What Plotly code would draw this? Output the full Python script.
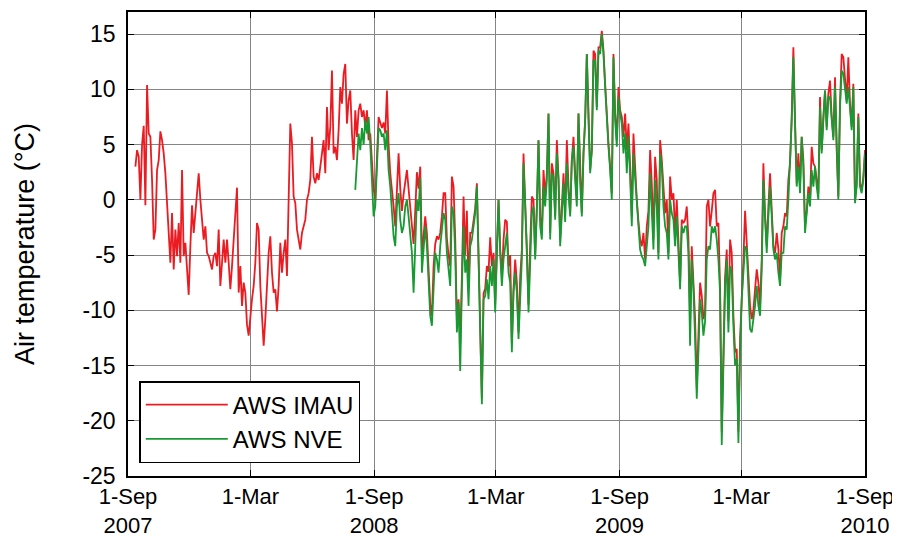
import pandas as pd
import plotly.graph_objects as go

# ---------------- data ----------------
series_start = "2007-09-12"
series_end = "2010-09-01"

# AWS IMAU air temperature (deg C), evenly spaced samples from series_start to series_end
imau_temp = [
    3.0, 4.5, 3.9, 0.0, 5.0, 6.7, -0.5, 10.4, 6.0, 5.7,
    1.8, -3.6, -2.7, 2.7, 3.6, 6.2, 5.4, 4.2, 2.4, -0.6,
    -3.6, -5.7, -1.2, -6.3, -2.7, -5.1, -2.1, -5.7, 2.7, -5.1,
    -3.9, -6.0, -8.6, -4.2, -0.5, -3.0, -1.2, 1.2, 2.4, 0.0,
    -1.5, -3.6, -2.4, -4.8, -5.1, -5.7, -6.3, -5.1, -4.8, -6.0,
    -2.7, -7.8, -5.1, -3.6, -5.7, -3.6, -5.7, -8.1, -6.0, -3.6,
    -1.5, 1.1, -8.4, -6.0, -9.6, -7.5, -8.4, -11.3, -12.3, -10.2,
    -9.0, -7.8, -5.7, -2.1, -2.7, -7.8, -10.5, -13.2, -10.8, -7.8,
    -4.8, -3.3, -6.6, -8.4, -8.1, -10.1, -7.8, -3.9, -6.6, -4.8,
    -3.6, -6.9, 1.8, 6.9, 5.1, 0.3, -0.3, -2.7, -3.6, -4.5,
    -3.0, -2.4, -1.8, 0.0, 0.6, 1.8, 5.7, 2.1, 1.5, 2.4,
    1.8, 3.0, 4.5, 5.4, 2.4, 8.4, 4.5, 6.6, 11.7, 4.2,
    4.8, 3.6, 6.3, 10.2, 8.7, 11.4, 12.3, 6.9, 9.0, 9.9,
    6.0, 3.6, 8.1, 5.7, 8.1, 8.7, 7.5, 8.1, 6.6, 8.1,
    5.4, 6.0, 3.5, 1.0, 0.0, 3.5, 7.5, 7.0, 6.5, 7.0,
    6.0, 9.9, 5.0, 2.4, 0.5, -0.6, -2.4, 1.2, 4.2, 1.0,
    -1.0, 0.5, 1.5, 2.7, 1.0, -0.6, -2.0, -4.0, -1.0, 2.5,
    1.0, 3.0, -5.0, -3.0, -1.5, -3.0, -6.0, -9.5, -10.5, -6.0,
    -4.0, -3.3, -3.6, -3.0, -1.5, 0.6, 0.6, -3.5, -5.0, -6.0,
    2.1, 1.2, -3.5, -11.0, -9.0, -13.0, -7.0, 0.3, -5.0, -1.0,
    -8.0, -3.0, -3.0, -2.0, -0.8, 1.5, -5.5, -13.0, -18.0, -8.5,
    -8.0, -6.0, -6.5, -3.4, -6.0, -4.8, -9.5, -4.5, 0.0, -4.5,
    -7.0, -3.6, -1.8, -2.0, -6.0, -5.0, -13.0, -8.0, -5.4, -7.5,
    -12.0, -7.0, -4.5, 4.2, 0.0, -3.6, -9.5, -4.0, 0.3, 0.0,
    -5.0, -0.6, 5.4, -1.5, -3.0, 2.7, 0.3, 2.4, 7.8, -3.0,
    3.3, 2.4, -1.5, 5.4, 2.0, -3.6, 0.0, 2.4, -1.2, 5.4,
    1.2, -1.2, 3.6, 5.7, 2.4, 0.0, 7.8, 2.4, -1.2, 4.2,
    7.2, 13.2, 7.5, 2.7, 4.5, 13.5, 13.2, 8.4, 13.8, 13.8,
    15.3, 13.5, 10.5, 7.5, 5.1, 3.0, 0.6, 13.2, 7.8, 5.4,
    10.2, 8.1, 7.5, 5.7, 7.8, 4.5, 6.9, 3.0, -1.5, 6.0,
    2.4, 0.0, -2.0, -3.6, -4.2, -3.0, -5.4, -2.4, -1.0, 4.5,
    1.5, -3.6, 3.9, 1.8, -4.8, 5.4, 3.6, 1.5, -1.2, 0.0,
    -4.8, 2.1, 0.0, 0.6, -3.0, 0.0, -3.9, -7.5, -1.8, -2.1,
    -1.8, -0.6, -3.6, -11.0, -4.2, -7.5, -10.8, -17.0, -12.3, -7.5,
    -8.7, -10.8, -10.0, -0.6, 0.0, -2.4, -1.0, 0.6, 0.9, -2.4,
    -2.1, -8.0, -21.0, -13.0, -7.0, -4.5, -11.0, -3.6, -4.8, -10.5,
    -13.8, -13.5, -21.0, -12.6, -8.0, -5.4, -1.0, -4.0, -7.2, -9.6,
    -10.8, -10.0, -8.1, -6.3, -7.5, -9.6, -5.4, 3.3, -1.5, -4.2,
    -0.6, 2.4, -0.9, -4.2, -4.8, -3.0, -4.5, -7.2, -3.0, -2.4,
    -1.2, -1.5, 1.8, 3.3, 7.5, 13.8, 7.0, 1.5, 4.2, 1.2,
    5.7, 3.6, -2.4, -1.0, 1.2, 0.0, 4.8, 3.3, 3.0, 1.5,
    0.6, 9.3, 4.5, 7.5, 9.9, 6.6, 9.6, 10.8, 7.5, 5.7,
    11.1, 4.5, 0.3, 8.7, 13.2, 12.9, 10.8, 9.0, 12.9, 8.7,
    6.6, 10.5, 0.0, 1.5, 7.8, 1.5, 0.9, 2.1, 4.5,
]

# AWS NVE air temperature (deg C), same sampling, station starts in July 2008
nve_temp = [
    0.9, 3.5, 6.0, 4.5, 6.5, 5.0, 7.2, 6.0, 7.5, 5.0,
    2.0, -1.5, -0.6, 3.5, 6.5, 6.3, 5.7, 6.0, 4.5, 6.3,
    2.7, 1.2, -1.2, -3.3, -4.2, -0.6, 0.6, -1.8, -3.0, -2.4,
    -0.6, 0.0, -1.5, -3.3, -4.8, -8.4, -4.8, 0.0, -1.0, 2.0,
    -6.6, -3.9, -2.4, -4.2, -7.5, -10.5, -11.4, -7.2, -4.8, -5.4,
    -6.6, -4.2, -2.4, -1.2, -1.8, -4.8, -6.3, -7.8, -0.6, -1.2,
    -4.8, -12.0, -9.3, -15.5, -8.0, -2.4, -6.6, -5.4, -9.6, -4.2,
    -3.6, -2.4, -1.2, 1.2, -6.0, -13.5, -18.5, -9.0, -8.7, -7.2,
    -9.0, -6.0, -7.8, -5.4, -10.2, -5.0, 0.0, -4.8, -7.8, -5.4,
    -4.2, -3.0, -6.6, -7.5, -13.8, -8.4, -6.6, -8.4, -12.6, -9.0,
    -5.4, 3.3, -0.3, -4.2, -10.2, -4.8, -1.2, -0.6, -5.4, -0.9,
    5.4, -2.4, -3.6, 1.2, -0.6, 1.8, 7.8, -3.6, 2.4, 2.1,
    -1.8, 4.2, 1.8, -4.2, -0.6, 1.5, -2.0, 3.3, 0.6, -1.5,
    3.6, 4.8, 1.8, -0.6, 7.8, 1.5, -1.5, 4.2, 7.2, 13.2,
    7.2, 2.4, 4.5, 12.6, 12.6, 8.1, 13.5, 13.2, 15.0, 13.2,
    10.2, 7.2, 4.8, 2.7, 0.0, 12.9, 7.2, 4.8, 9.3, 7.8,
    6.9, 4.2, 6.0, 2.4, 5.7, 2.1, -2.4, 4.2, 1.8, -0.6,
    -2.7, -4.5, -5.1, -5.4, -6.0, -4.2, -2.4, 2.4, -0.6, -4.5,
    1.8, -0.6, -5.4, 4.2, 3.0, -0.6, -2.4, -3.0, -5.4, 0.0,
    -1.2, -1.8, -4.2, -1.5, -4.8, -8.1, -2.4, -3.0, -2.4, -2.4,
    -4.8, -13.2, -5.4, -8.1, -12.6, -18.0, -13.8, -9.0, -10.2, -12.3,
    -11.0, -5.4, -4.2, -4.5, -2.4, -3.0, -2.4, -3.6, -5.4, -8.4,
    -22.2, -13.8, -7.8, -5.4, -12.0, -6.0, -6.6, -11.4, -15.0, -14.4,
    -22.0, -13.8, -9.0, -6.6, -4.2, -4.5, -9.0, -11.7, -12.0, -11.0,
    -9.6, -7.8, -9.6, -10.5, -6.3, 1.8, -2.4, -4.8, -1.5, 1.2,
    -1.5, -4.5, -5.4, -4.8, -6.6, -7.8, -4.8, -4.8, -2.4, -2.7,
    0.0, 3.0, 7.2, 12.9, 6.6, 1.2, 3.0, 0.6, 5.7, 3.0,
    -3.0, -1.5, 0.6, -0.6, 2.7, 1.2, 3.0, 1.2, 0.0, 8.4,
    4.2, 7.2, 9.9, 6.3, 9.3, 9.3, 7.2, 5.4, 10.2, 4.2,
    0.0, 8.4, 11.7, 11.4, 10.2, 8.7, 10.2, 8.4, 6.3, 10.2,
    -0.3, 1.2, 7.5, 1.2, 0.6, 1.8, 4.2,
]

tick_dates = ["2007-09-01", "2008-03-01", "2008-09-01", "2009-03-01",
              "2009-09-01", "2010-03-01", "2010-09-01"]
tick_labels = ["1-Sep<br>2007", "1-Mar", "1-Sep<br>2008", "1-Mar",
               "1-Sep<br>2009", "1-Mar", "1-Sep<br>2010"]
y_ticks = [-25, -20, -15, -10, -5, 0, 5, 10, 15]
y_tick_labels = ["-25", "-20", "-15", "-10", "-5", "0", "5", "10", "15"]

# ---------------- figure ----------------
dates = pd.date_range(series_start, series_end, periods=len(imau_temp))
nve_dates = dates[len(imau_temp) - len(nve_temp):]

fig = go.Figure()
fig.add_trace(go.Scatter(x=dates, y=imau_temp, mode="lines", name="AWS IMAU",
                         line=dict(color="#EA1C22", width=1.8)))
fig.add_trace(go.Scatter(x=nve_dates, y=nve_temp, mode="lines", name="AWS NVE",
                         line=dict(color="#179A32", width=1.8)))

axis_common = dict(showgrid=True, gridcolor="#858585", gridwidth=1,
                   showline=True, linecolor="black", linewidth=1.5,
                   mirror="ticks", ticks="inside", ticklen=6,
                   tickcolor="black", tickwidth=1, zeroline=False,
                   automargin=False)

fig.update_xaxes(type="date", range=["2007-09-01", "2010-09-01"],
                 tickmode="array", tickvals=tick_dates, ticktext=tick_labels,
                 ticklabelstandoff=0, tickfont=dict(size=22, color="black"),
                 **axis_common)
fig.update_yaxes(range=[-25, 17], tickmode="array", tickvals=y_ticks,
                 ticktext=y_tick_labels, ticklabelstandoff=6,
                 tickfont=dict(size=23, color="black"),
                 title=dict(text="Air temperature (°C)", font=dict(size=27, color="black"),
                            standoff=40),
                 **axis_common)

# the page body adds an 8 px offset, so the figure is sized to land on the same pixels
fig.update_layout(
    width=892, height=529,
    margin=dict(l=120, r=35, t=4, b=61, autoexpand=False),
    paper_bgcolor="white", plot_bgcolor="white",
    font=dict(family="Liberation Sans, Arial, Helvetica, sans-serif", size=23, color="black"),
    showlegend=True,
    legend=dict(x=0.0153, y=0.028, xanchor="left", yanchor="bottom",
                bordercolor="black", borderwidth=1.5, bgcolor="white",
                font=dict(size=24, color="black"), itemwidth=82,
                tracegroupgap=0),
)

fig.write_html("out.html")
